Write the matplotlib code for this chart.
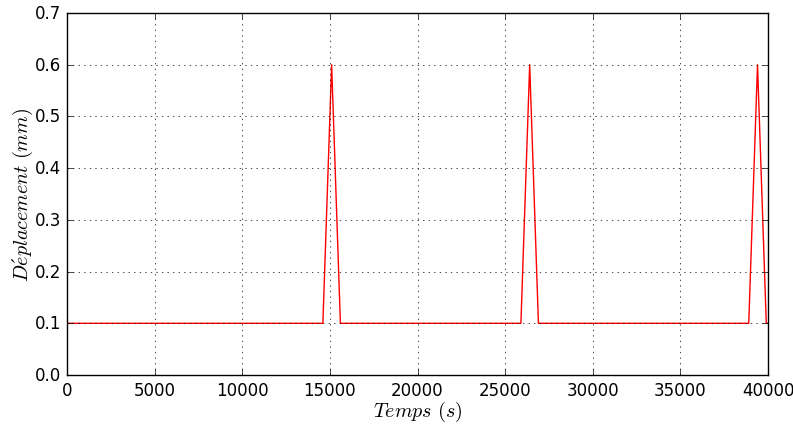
import numpy as np
import matplotlib
matplotlib.use('Agg')
import matplotlib.pyplot as plt

# temps (s) et deplacement (mm)
temps = [0, 14600, 15100, 15600, 25900, 26400, 26900, 38900, 39400, 39900, 40000]
deplacement = [0.1, 0.1, 0.6, 0.1, 0.1, 0.6, 0.1, 0.1, 0.6, 0.1, 0.1]

if __name__ == '__main__':
    plt.style.use('classic')
    fig = plt.figure(figsize=(7.93, 4.27), dpi=100, facecolor='white')
    ax = fig.add_axes([0.0845, 0.1194, 0.884, 0.8478])
    ax.plot(temps, deplacement, color='red', lw=1.0)
    ax.set_xlim(0, 40000)
    ax.set_ylim(0, 0.7)
    ax.set_xticks(np.arange(0, 40001, 5000))
    ax.set_yticks(np.arange(0, 0.71, 0.1))
    ax.grid(True)
    ax.set_xlabel(r'$Temps\ (s)$', fontsize=14.5, labelpad=0.5)
    ax.set_ylabel(r"$D\'eplacement\ (mm)$", fontsize=14.5, labelpad=0)
    fig.savefig('out.png', dpi=100, facecolor='white')
